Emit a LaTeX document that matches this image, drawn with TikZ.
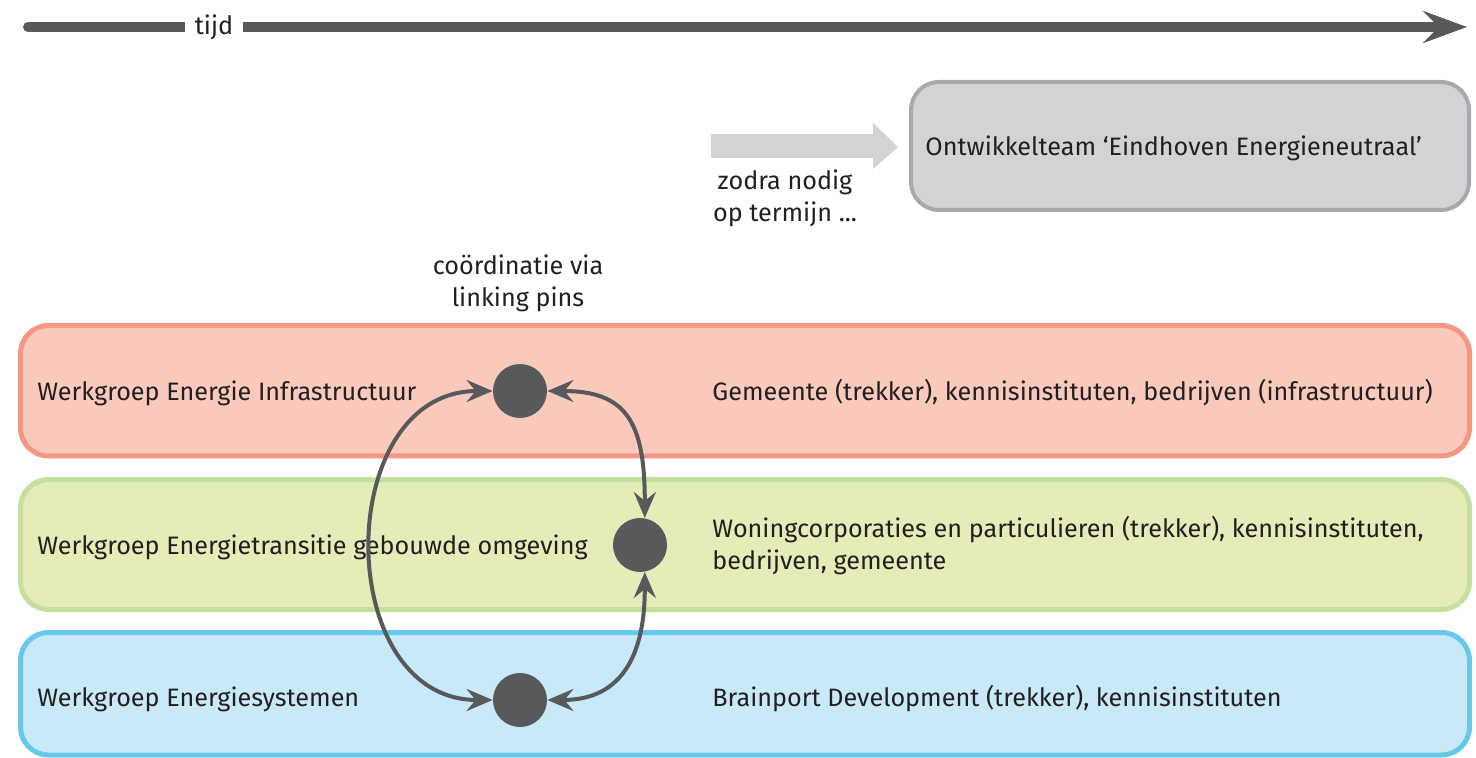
\documentclass[tikz,border=0pt]{standalone}
\usepackage{fontspec}
\setmainfont{Fira Sans}
\usetikzlibrary{arrows.meta,calc}
\definecolor{ink}{HTML}{231F20}
\definecolor{darkgrey}{HTML}{58595B}
\definecolor{greyfill}{HTML}{D1D3D4}
\definecolor{greyline}{HTML}{A7A9AC}
\definecolor{redfill}{HTML}{F9C9BB}
\definecolor{redline}{HTML}{F49784}
\definecolor{greenfill}{HTML}{E5ECB8}
\definecolor{greenline}{HTML}{C5DF9F}
\definecolor{bluefill}{HTML}{C7E9F8}
\definecolor{blueline}{HTML}{6AC7EC}
\tikzset{
  band/.style={rounded corners=14pt, line width=2.5pt, minimum width=724.5pt, inner sep=0pt},
  label/.style={text=ink, font=\fontsize{12.6}{16}\selectfont, inner sep=0pt},
  pinnode/.style={circle, fill=darkgrey, minimum size=27pt, inner sep=0pt},
  linktip/.style={Stealth[length=13pt,width=11pt,inset=4.5pt]},
  link/.style={draw=darkgrey, line width=2pt, {Stealth[length=13pt,width=11pt,inset=4.5pt]}-{Stealth[length=13pt,width=11pt,inset=4.5pt]}},
}
\begin{document}
\begin{tikzpicture}[x=0.5pt,y=-0.5pt]
\useasboundingbox (0,0) rectangle (1476,758);

% time axis
\node[label, minimum width=29pt, minimum height=12pt] (tijd) at (214,27) {tijd};
\coordinate (t0) at (28,27);
\coordinate (t1) at (1467,27);
\fill[darkgrey] (t0) circle (2.5pt);
\draw[darkgrey, line width=5pt] (t0) -- (tijd.west);
\draw[darkgrey, line width=5pt, -{Stealth[length=22pt,width=16pt,inset=8pt]}] (tijd.east) -- (t1);

% development team
\node[draw=greyline, fill=greyfill, rounded corners=14pt, line width=2pt,
      minimum width=279pt, minimum height=64pt, inner sep=0pt] (team) at (1190,146) {};
\node[label, anchor=west] (teamtxt) at (925,148) {Ontwikkelteam ‘Eindhoven Energieneutraal’};
\fill[greyfill] (711,134) -- (873,134) -- (873,123) -- (898,147) -- (873,169) -- (873,158) -- (711,158) -- cycle;
\node[label, align=center] (when) at (785,198) {zodra nodig\\op termijn ...};

% working groups
\node[band, draw=redline, fill=redfill, minimum height=65.25pt] (infra) at (745,390.75) {};
\node[band, draw=greenline, fill=greenfill, minimum height=65pt] (built) at (745,544.5) {};
\node[band, draw=blueline, fill=bluefill, minimum height=61.25pt] (sys) at (745,693.75) {};

\node[label, anchor=west] (infraL) at (37,393) {Werkgroep Energie Infrastructuur};
\node[label, anchor=west] (builtL) at (37,547) {Werkgroep Energietransitie gebouwde omgeving};
\node[label, anchor=west] (sysL) at (37,699) {Werkgroep Energiesystemen};

\node[label, anchor=west] (infraR) at (712,393) {Gemeente (trekker), kennisinstituten, bedrijven (infrastructuur)};
\node[label, anchor=west, align=left] (builtR) at (712,546) {Woningcorporaties en particulieren (trekker), kennisinstituten,\\bedrijven, gemeente};
\node[label, anchor=west] (sysR) at (712,699) {Brainport Development (trekker), kennisinstituten};

% linking pins
\node[label, align=center] (coord) at (518,283) {coördinatie via\\linking pins};
\node[pinnode] (p1) at (520,391) {};
\node[pinnode] (p2) at (640,545) {};
\node[pinnode] (p3) at (520,700) {};

\draw[link] (p1.west) .. controls (332,391) and (332,700) .. (p3.west);
\draw[link] (p1.east) .. controls (625,391) and (645,420) .. (p2.80);
\draw[link] (p2.280) .. controls (645,650) and (625,700) .. (p3.east);
\end{tikzpicture}
\end{document}
